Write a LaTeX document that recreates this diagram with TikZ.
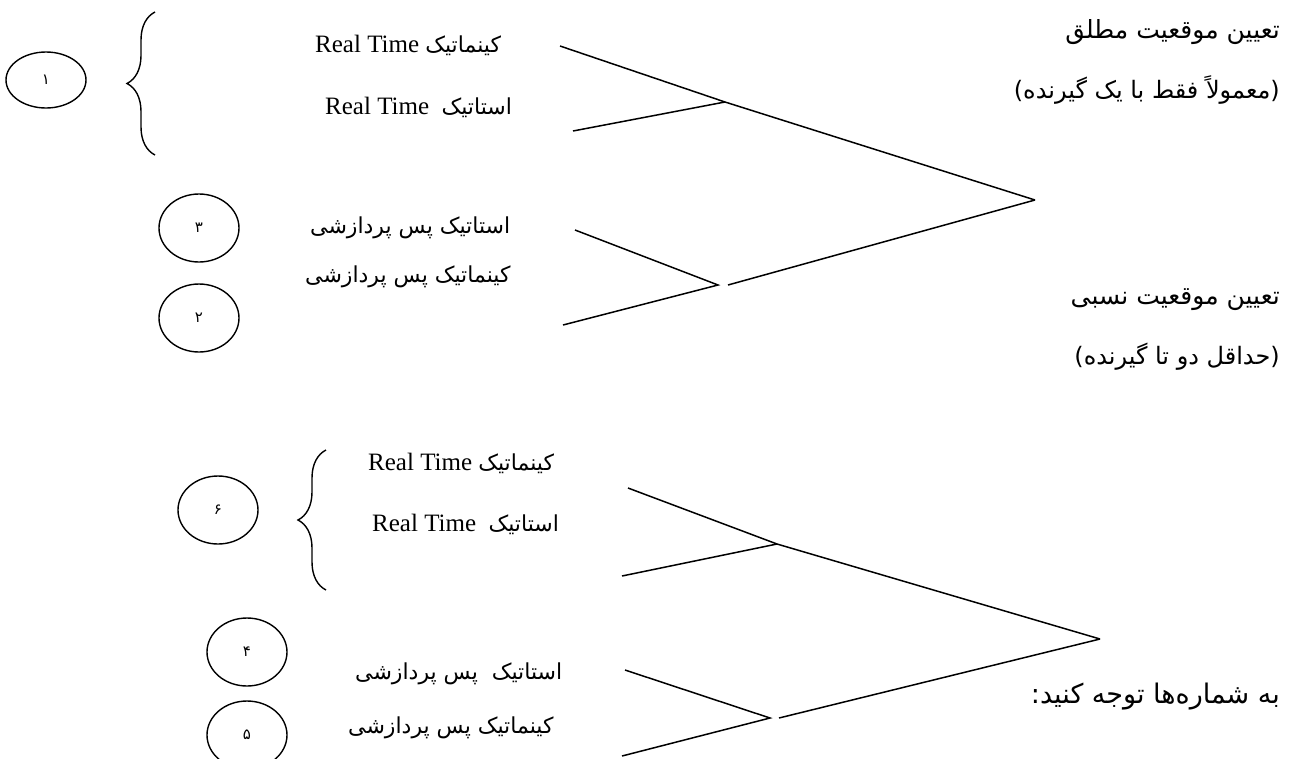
\documentclass[tikz,border=0pt]{standalone}
\usepackage{fontspec}
\setmainfont{Liberation Serif}
\newfontfamily\fa[Script=Arabic]{DejaVu Sans}
\newfontfamily\dv{DejaVu Sans}
\TeXXeTstate=1
\usetikzlibrary{shapes.geometric,decorations.pathreplacing}

\newcommand{\pl}[1]{{\fa\fontsize{22}{22}\selectfont\beginR #1\endR}}

\tikzset{
  num/.style={draw, ellipse, line width=1.4pt, minimum width=80pt, minimum height=68pt,
    inner sep=0pt, font=\fa\fontsize{15}{15}\selectfont},
  lbl/.style={anchor=west, inner sep=0pt, font=\fontsize{25}{25}\selectfont},
  ttl/.style={anchor=east, inner sep=0pt, font=\fa\fontsize{25}{25}\selectfont},
  sub/.style={anchor=east, inner sep=0pt, font=\fa\fontsize{24}{24}\selectfont},
  bline/.style={line width=1.5pt},
  brc/.style={line width=1.4pt, decorate, decoration={brace, amplitude=28pt}},
}

\begin{document}
\begin{tikzpicture}[x=1pt, y=-1pt]
  \useasboundingbox (0,0) rectangle (1289,758);

  % absolute positioning
  \node[ttl] (t1) at (1280,32) {\beginR تعیین موقعیت مطلق\endR};
  \node[sub] (t1b) at (1280,90) {{\dv(}\beginR معمولاً فقط با یک گیرنده\endR{\dv)}};

  % numbers of the first group
  \node[num, minimum height=56pt] (n1) at (46,80) {۱};
  \node[num] (n3) at (199,228) {۳};
  \node[num] (n2) at (199,318) {۲};

  \draw[brc] (155,155) -- (155,12);

  \node[lbl] (k1) at (315,45) {Real Time \pl{کینماتیک}};
  \node[lbl] (k2) at (325,107) {Real Time\ \ \pl{استاتیک}};
  \node[lbl] (k3) at (310,228) {\pl{استاتیک پس پردازشی}};
  \node[lbl] (k4) at (305,277) {\pl{کینماتیک پس پردازشی}};

  \coordinate (s1) at (560,46);
  \coordinate (s2) at (573,131);
  \coordinate (j1) at (725,102);
  \coordinate (a1) at (1035,200);
  \coordinate (s3) at (575,230);
  \coordinate (s4) at (563,325);
  \coordinate (j2) at (718,285);
  \coordinate (g1) at (728,285);

  \draw[bline] (s1) -- (j1) -- (a1);
  \draw[bline] (s2) -- (j1);
  \draw[bline] (s3) -- (j2) -- (s4);
  \draw[bline] (g1) -- (a1);

  % relative positioning
  \node[ttl] (t2) at (1280,300) {\beginR تعیین موقعیت نسبی\endR};
  \node[sub] (t2b) at (1280,357) {{\dv(}\beginR حداقل دو تا گیرنده\endR{\dv)}};

  \node[num] (n6) at (218,510) {۶};
  \node[num] (n4) at (247,652) {۴};
  \node[num] (n5) at (247,735) {۵};

  \draw[brc] (326,590) -- (326,450);

  \node[lbl] (k5) at (368,463) {Real Time \pl{کینماتیک}};
  \node[lbl] (k6) at (372,524) {Real Time\ \ \pl{استاتیک}};
  \node[lbl] (k7) at (355,674) {\pl{استاتیک\ \ پس پردازشی}};
  \node[lbl] (k8) at (348,728) {\pl{کینماتیک پس پردازشی}};

  \coordinate (s5) at (628,488);
  \coordinate (s6) at (622,576);
  \coordinate (j3) at (777,544);
  \coordinate (a2) at (1100,639);
  \coordinate (s7) at (625,670);
  \coordinate (s8) at (622,756);
  \coordinate (j4) at (770,718);
  \coordinate (g2) at (779,718);

  \draw[bline] (s5) -- (j3) -- (a2);
  \draw[bline] (s6) -- (j3);
  \draw[bline] (s7) -- (j4) -- (s8);
  \draw[bline] (g2) -- (a2);

  \node[ttl, font=\fa\fontsize{27}{27}\selectfont] (t3) at (1280,697) {:\beginR به شماره‌ها توجه کنید\endR};
\end{tikzpicture}
\end{document}
